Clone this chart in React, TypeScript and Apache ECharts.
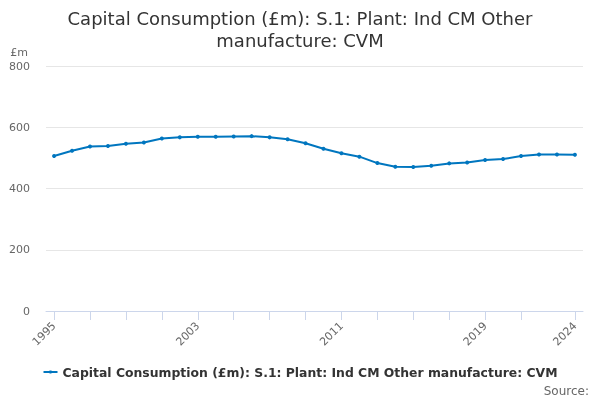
import React, { useEffect, useRef } from "react";
import * as echarts from "echarts";

const years = [1995,1996,1997,1998,1999,2000,2001,2002,2003,2004,2005,2006,2007,2008,2009,2010,2011,2012,2013,2014,2015,2016,2017,2018,2019,2020,2021,2022,2023,2024];
const values = [506,523,537,539,546,550,563,567,569,569,570,571,567,561,548,530,515,504,483,471,470,474,482,485,493,496,506,511,511,510];
const labelYears = [1995, 2003, 2011, 2019, 2024];
const tickYears = [1995,1997,1999,2001,2003,2005,2007,2009,2011,2013,2015,2017,2019,2021,2024];
const yTicks = [0, 200, 400, 600, 800];

const FONT = "DejaVu Sans";
const SERIES_NAME = "Capital Consumption (£m): S.1: Plant: Ind CM Other manufacture: CVM";

export default function App() {
  const ref = useRef<HTMLDivElement>(null);
  useEffect(() => {
    if (!ref.current) return;
    const chart = echarts.init(ref.current, undefined, { renderer: "svg" });
    chart.setOption({
      animation: false,
      textStyle: { fontFamily: FONT },
      title: {
        text: "Capital Consumption (£m): S.1: Plant: Ind CM Other\nmanufacture: CVM",
        left: "center",
        top: 2,
        textStyle: { fontFamily: FONT, fontSize: 18, fontWeight: "normal", color: "#333333", lineHeight: 22 },
      },
      grid: { left: 46, right: 17, top: 66, bottom: 89, containLabel: false },
      legend: {
        bottom: 17,
        left: "center",
        itemWidth: 14,
        itemHeight: 4,
        itemGap: 6,
        textStyle: { fontFamily: FONT, fontSize: 12.4, fontWeight: "bold", color: "#333333" },
        data: [SERIES_NAME],
      },
      xAxis: {
        type: "value",
        min: 1994.55,
        max: 2024.45,
        axisLine: { show: true, lineStyle: { color: "#ccd6eb" } },
        axisTick: { show: true, length: 9, lineStyle: { color: "#ccd6eb" }, customValues: tickYears },
        axisLabel: {
          customValues: labelYears,
          rotate: 45,
          color: "#666666",
          fontSize: 11,
          fontFamily: FONT,
          formatter: (v: number) => String(v),
          margin: 13,
        },
        splitLine: { show: false },
      },
      yAxis: {
        type: "value",
        min: 0,
        max: 800,
        interval: 200,
        name: "£m",
        nameLocation: "end",
        nameGap: 8,
        nameTextStyle: { color: "#666666", fontSize: 11, fontFamily: FONT, align: "right", padding: [0, 18, 0, 0] },
        axisLine: { show: false },
        axisTick: { show: false },
        axisLabel: { color: "#666666", fontSize: 11, fontFamily: FONT, margin: 16, customValues: yTicks },
        splitLine: { lineStyle: { color: "#e6e6e6" } },
      },
      series: [
        {
          name: SERIES_NAME,
          type: "line",
          data: years.map((y, i) => [y, values[i]]),
          symbol: "circle",
          symbolSize: 4,
          showSymbol: true,
          lineStyle: { color: "#0076bf", width: 2 },
          itemStyle: { color: "#0076bf" },
        },
      ],
      graphic: [
        {
          type: "text",
          right: 11,
          top: 385,
          style: { text: "Source:", fill: "#666666", fontSize: 12, fontFamily: FONT },
        },
      ],
    });
    return () => chart.dispose();
  }, []);
  return (
    <div
      ref={ref}
      style={{ position: "fixed", left: 0, top: 0, width: 600, height: 400 }}
    />
  );
}
